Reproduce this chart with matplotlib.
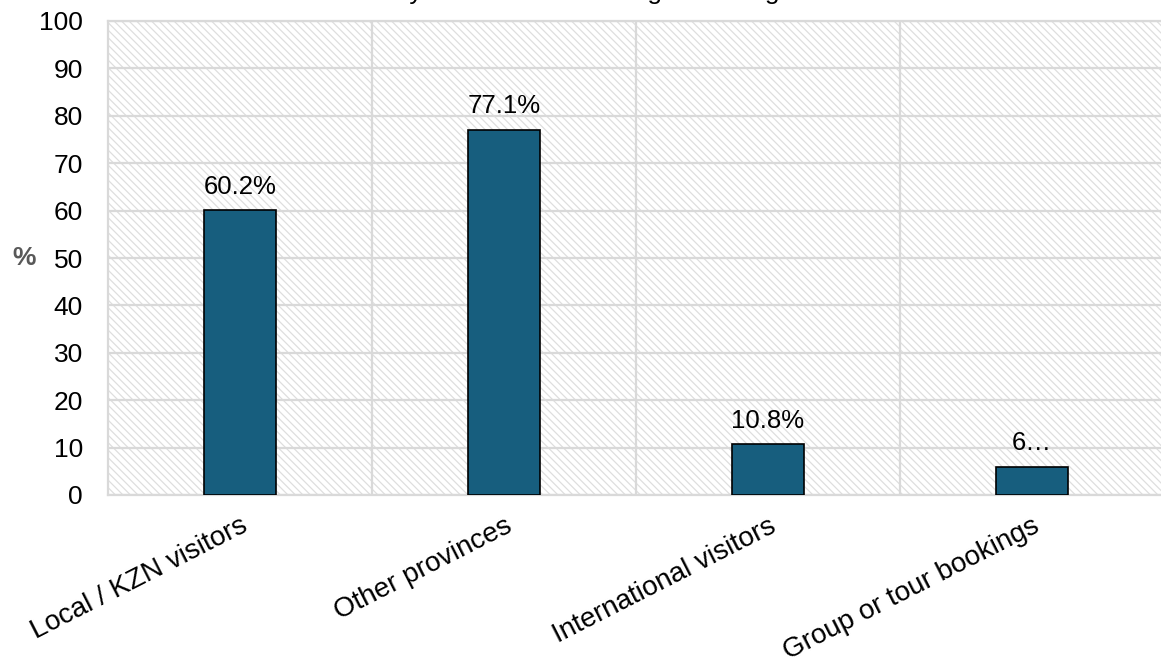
import numpy as np
import matplotlib
matplotlib.use("Agg")
import matplotlib.pyplot as plt
from matplotlib.collections import LineCollection
from matplotlib.transforms import IdentityTransform

plt.rcParams["font.family"] = ["Liberation Sans", "DejaVu Sans"]

# data
categories = ["Local / KZN visitors", "Other provinces",
              "International visitors", "Group or tour bookings"]
share = [60.2, 77.1, 10.8, 6.0]
yticks = list(range(0, 101, 10))
title = "Share of visitors by market and booking in the region"

grid_col = "#d9d9d9"
bar_col = "#175e7e"

fig = plt.figure(figsize=(11.61, 6.63), dpi=100)
ax = fig.add_axes([108 / 1161, 1 - 495 / 663, 1056 / 1161, 474 / 663])

x = np.arange(len(categories))
ax.set_xlim(-0.5, len(categories) - 0.5)
ax.set_ylim(0, 100)

# diagonal hatching behind the plot area, in pixel space
bb = ax.get_window_extent()
step = 7.5
h = bb.height
starts = np.arange(bb.x0 - h, bb.x1 + step, step)
segs = [[(s, bb.y1), (s + h, bb.y0)] for s in starts]
hatch = LineCollection(segs, colors="#dedede", linewidths=0.9,
                       transform=IdentityTransform(), zorder=0)
ax.add_collection(hatch, autolim=False)
hatch.set_clip_box(ax.bbox)

ax.set_yticks(yticks)
ax.set_xticks(x)
ax.set_xticks(x[:-1] + 0.5, minor=True)
ax.grid(axis="y", which="major", color=grid_col, lw=1.6, zorder=1)
ax.grid(axis="x", which="minor", color=grid_col, lw=1.6, zorder=1)
ax.tick_params(which="both", length=0)
ax.tick_params(axis="y", labelsize=19, pad=18)
for s in ax.spines.values():
    s.set_color(grid_col)
    s.set_linewidth(1.6)
ax.spines["right"].set_visible(False)

bars = ax.bar(x, share, width=0.275, color=bar_col, edgecolor="black",
              linewidth=1.2, zorder=3)

labels = [f"{v:.1f}%" for v in share]
labels[-1] = labels[-1][0] + "\u2026"
for b, t in zip(bars, labels):
    ax.annotate(t, (b.get_x() + b.get_width() / 2, b.get_height()),
                xytext=(0, 8), textcoords="offset points",
                ha="center", va="bottom", fontsize=18.5, zorder=4)

ax.set_xticklabels(categories, rotation=27, ha="right",
                   rotation_mode="anchor", fontsize=20)
ax.tick_params(axis="x", pad=13)

ax.set_ylabel("%", rotation=0, fontsize=19, fontweight="bold",
              color="#595959", va="center")
ax.yaxis.set_label_coords(-84 / 1056, 0.5)

fig.text(198 / 1161, 1 + 1 / 663, title, fontsize=19, ha="left",
         va="baseline")

fig.savefig("out.png", dpi=100)
